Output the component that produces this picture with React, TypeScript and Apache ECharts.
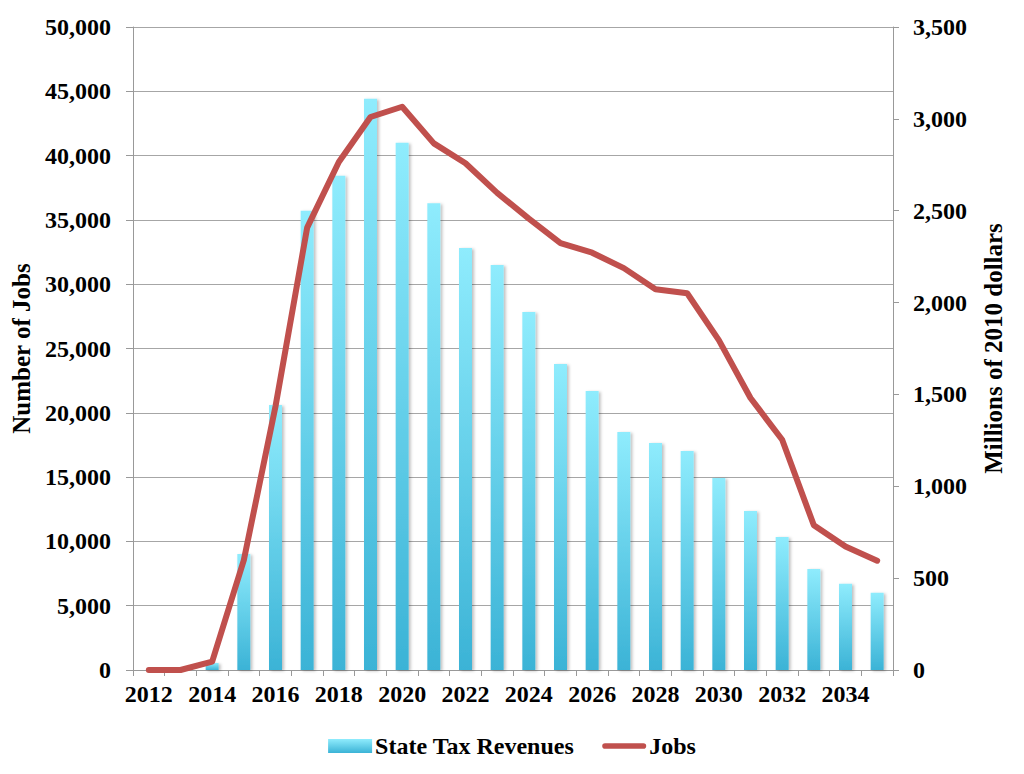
import React, { useEffect, useRef } from "react";
import * as echarts from "echarts";

const years = [
  "2012", "2013", "2014", "2015", "2016", "2017", "2018", "2019", "2020", "2021", "2022", "2023",
  "2024", "2025", "2026", "2027", "2028", "2029", "2030", "2031", "2032", "2033", "2034", "2035",
];

// State Tax Revenues, millions of 2010 dollars (right axis)
const revenues = [
  0, 0, 38, 632, 1443, 2500, 2690, 3110, 2870, 2540, 2297, 2204,
  1949, 1666, 1519, 1295, 1236, 1192, 1045, 865, 724, 550, 470, 421,
];

// Jobs (left axis)
const jobs = [
  0, 0, 650, 8550, 20500, 34400, 39500, 43000, 43800, 40950, 39400, 37100,
  35100, 33200, 32450, 31250, 29600, 29300, 25650, 21150, 17900, 11250, 9600, 8500,
];

const leftTitle = "Number of Jobs";
const rightTitle = "Millions of 2010 dollars";
const barName = "State Tax Revenues";
const lineName = "Jobs";

const FONT = "'Liberation Serif', 'Times New Roman', serif";
const fmt = (v: number) => v.toLocaleString("en-US");

export default function App() {
  const ref = useRef<HTMLDivElement>(null);

  useEffect(() => {
    document.body.style.margin = "0";
    if (!ref.current) return;
    const chart = echarts.init(ref.current, undefined, { renderer: "svg" });
    const textBase = { fontFamily: FONT, fontWeight: "bold" as const, color: "#000", fontSize: 24 };
    chart.setOption({
      animation: false,
      backgroundColor: "#fff",
      grid: { left: 133, right: 131, top: 27, bottom: 104 },
      legend: {
        bottom: 11,
        left: "center",
        itemWidth: 44,
        itemHeight: 14,
        itemGap: 28,
        textStyle: { ...textBase, fontSize: 24, padding: [0, 0, 0, -2] },
        data: [
          { name: barName, icon: "rect" },
          {
            name: lineName,
            icon: "path://M3,0 L44,0 A3,3 0 0 1 44,6 L3,6 A3,3 0 0 1 3,0 Z",
          },
        ],
      },
      xAxis: {
        type: "category",
        data: years,
        boundaryGap: true,
        axisLine: { lineStyle: { color: "#999", width: 1 } },
        axisTick: { show: true, interval: 0, length: 6, lineStyle: { color: "#999" } },
        axisLabel: { ...textBase, interval: 1, margin: 12 },
        splitLine: { show: false },
      },
      yAxis: [
        {
          type: "value",
          min: 0,
          max: 50000,
          interval: 5000,
          name: leftTitle,
          nameLocation: "middle",
          nameRotate: 90,
          nameGap: 94,
          nameTextStyle: { ...textBase, fontSize: 25 },
          axisLine: { show: true, lineStyle: { color: "#999" } },
          axisTick: { show: true, length: 7, lineStyle: { color: "#999" } },
          axisLabel: { ...textBase, margin: 22, formatter: fmt },
          splitLine: { show: true, lineStyle: { color: "#a6a6a6", width: 1 } },
        },
        {
          type: "value",
          min: 0,
          max: 3500,
          interval: 500,
          position: "right",
          name: rightTitle,
          nameLocation: "middle",
          nameRotate: 90,
          nameGap: 88,
          nameTextStyle: { ...textBase, fontSize: 25 },
          axisLine: { show: true, lineStyle: { color: "#999" } },
          axisTick: { show: true, length: 6, lineStyle: { color: "#999" } },
          axisLabel: { ...textBase, margin: 20, formatter: fmt },
          splitLine: { show: false },
        },
      ],
      series: [
        {
          name: barName,
          type: "bar",
          yAxisIndex: 1,
          data: revenues,
          barWidth: 13,
          itemStyle: {
            color: new echarts.graphic.LinearGradient(0, 0, 0, 1, [
              { offset: 0, color: "#8fecfd" },
              { offset: 1, color: "#3bb3d6" },
            ]),
            shadowColor: "rgba(0,0,0,0.25)",
            shadowBlur: 3,
            shadowOffsetX: 2,
            shadowOffsetY: 1,
          },
        },
        {
          name: lineName,
          type: "line",
          yAxisIndex: 0,
          data: jobs,
          symbol: "none",
          lineStyle: { color: "#c0504d", width: 6, cap: "round", join: "round" },
          itemStyle: { color: "#c0504d" },
          z: 5,
        },
      ],
    });
    return () => chart.dispose();
  }, []);

  return <div ref={ref} style={{ width: 1024, height: 774 }} />;
}
